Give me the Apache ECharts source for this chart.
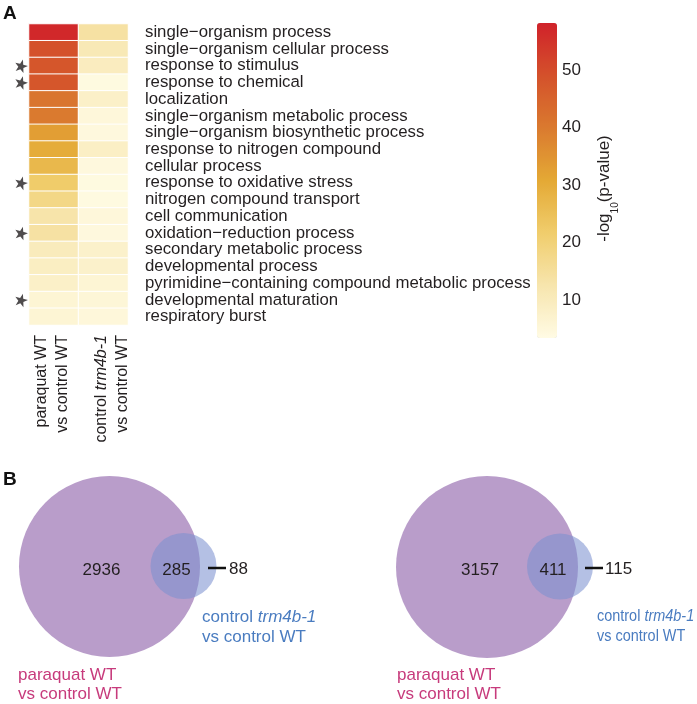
<!DOCTYPE html>
<html><head><meta charset="utf-8">
<script src="https://cdn.jsdelivr.net/npm/echarts@6/dist/echarts.min.js"></script>
<style>html,body{margin:0;padding:0;background:#fff}#c{width:697px;height:704px}</style>
</head><body><div id="c"></div>
<script>
// ---------- data ----------
const terms = [
  'single−organism process',
  'single−organism cellular process',
  'response to stimulus',
  'response to chemical',
  'localization',
  'single−organism metabolic process',
  'single−organism biosynthetic process',
  'response to nitrogen compound',
  'cellular process',
  'response to oxidative stress',
  'nitrogen compound transport',
  'cell communication',
  'oxidation−reduction process',
  'secondary metabolic process',
  'developmental process',
  'pyrimidine−containing compound metabolic process',
  'developmental maturation',
  'respiratory burst'
];
const comparisons = ['paraquat WT vs control WT', 'control trm4b-1 vs control WT'];
const paraquatWT = [57, 49, 48, 48, 41, 40, 33, 30, 27, 22, 18, 13, 14, 10, 9, 8, 6, 6];
const trm4bWT    = [14, 11, 9.5, 4, 8, 5, 4.5, 8.5, 4.5, 4, 4, 5, 4.5, 7.5, 7.5, 6, 5.5, 5];
const starredTerms = ['response to stimulus', 'response to chemical', 'response to oxidative stress',
  'oxidation−reduction process', 'developmental maturation'];
const colorbarTicks = [10, 20, 30, 40, 50];
const colorMin = 3.4, colorMax = 58.2;
// Venn counts: [only paraquat, shared, only trm4b-1]
const vennLeft  = [2936, 285, 88];
const vennRight = [3157, 411, 115];

// ---------- layout / style ----------
const FONT = '"Liberation Sans", Arial, Helvetica, sans-serif';
const TXT = '#231f20';
const vennLayout = [
  { cx: 109.5, cy: 566.5, R: 90.5, sx: 183.5, sy: 566, r: 33,
    tA: [101.5, 570.5], tB: [176.5, 570.5], dash: [208, 226, 568], tC: [229, 569],
    blue: [202, 607], blueScale: 1, pink: [18, 665.5] },
  { cx: 487, cy: 567, R: 91, sx: 560, sy: 566.5, r: 33,
    tA: [480, 570.5], tB: [553, 570.5], dash: [585, 603, 568], tC: [605, 569],
    blue: [597, 606], blueScale: 0.85, pink: [397, 665.5] }
];

const heatData = [];
terms.forEach((t, i) => {
  heatData.push([0, i, paraquatWT[i]]);
  heatData.push([1, i, trm4bWT[i]]);
});
const starData = starredTerms.map(t => [0, terms.indexOf(t)]);
const vennData = [vennLeft, vennRight].map((v, i) => [i, v[0], v[1], v[2]]);

const STAR = 'path://M0,-10 L2.35,-3.24 L9.51,-3.09 L3.80,1.24 L5.88,8.09 L0,4 L-5.88,8.09 L-3.80,1.24 L-9.51,-3.09 L-2.35,-3.24 Z';

function rotLabel(x, y, text, rich) {
  return {
    type: 'text', x: x, y: y, rotation: Math.PI / 2,
    style: { text: text, font: '16px ' + FONT, fill: TXT, align: 'right', verticalAlign: 'middle',
      textAlign: 'right', textVerticalAlign: 'middle', rich: rich }
  };
}
const italRich = {
  n: { fontSize: 16, fontFamily: FONT, color: TXT },
  i: { fontSize: 16, fontFamily: FONT, color: TXT, fontStyle: 'italic' }
};

const chart = echarts.init(document.getElementById('c'), null, { renderer: 'canvas' });
chart.setOption({
  backgroundColor: '#fff',
  animation: false,
  textStyle: { fontFamily: FONT },
  grid: [
    { left: 29, top: 24, width: 99, height: 301, outerBoundsMode: 'none', containLabel: false },
    { left: 537, top: 23, width: 20, height: 315, outerBoundsMode: 'none', containLabel: false },
    { left: 0, top: 0, width: 697, height: 704, outerBoundsMode: 'none', containLabel: false }
  ],
  xAxis: [
    { gridIndex: 0, type: 'category', data: comparisons, axisLine: { show: false }, axisTick: { show: false },
      axisLabel: { show: false }, splitLine: { show: false } },
    { gridIndex: 1, type: 'value', show: false },
    { gridIndex: 2, type: 'value', min: 0, max: 697, show: false }
  ],
  yAxis: [
    { gridIndex: 0, type: 'category', data: terms, inverse: true, position: 'right',
      axisLine: { show: false }, axisTick: { show: false }, splitLine: { show: false },
      axisLabel: { interval: 0, margin: 17, fontSize: 16.8, color: TXT, fontFamily: FONT, hideOverlap: false } },
    { gridIndex: 1, type: 'value', min: colorMin, max: colorMax, position: 'right',
      axisLine: { show: false }, axisTick: { show: false }, splitLine: { show: false },
      axisLabel: { customValues: colorbarTicks, margin: 5, fontSize: 17, color: TXT, fontFamily: FONT },
      name: '{a|-log}{s|10}{a|(p-value)}', nameLocation: 'middle', nameRotate: 90, nameGap: 37,
      nameTextStyle: { padding: [0, 16, 0, 0], rich: {
        a: { fontSize: 17, fontFamily: FONT, color: TXT, lineHeight: 20 },
        s: { fontSize: 10, fontFamily: FONT, color: TXT, lineHeight: 12, verticalAlign: 'bottom', padding: [0, 0, -6, 0] }
      } } },
    { gridIndex: 2, type: 'value', min: 0, max: 704, inverse: true, show: false }
  ],
  visualMap: {
    type: 'continuous', min: colorMin, max: colorMax, seriesIndex: 0, show: true,
    left: 537, top: 23, itemWidth: 20, itemHeight: 315, padding: 0, calculable: false,
    text: null, hoverLink: false,
    inRange: { color: ['#fffbe4', '#f7e5ad', '#f0cd6c', '#e4a935', '#da7a2f', '#d4512b', '#d0222a'] }
  },
  series: [
    { type: 'heatmap', xAxisIndex: 0, yAxisIndex: 0, data: heatData,
      itemStyle: { borderColor: '#ffffff', borderWidth: 1 }, emphasis: { disabled: true } },
    { type: 'scatter', xAxisIndex: 0, yAxisIndex: 0, data: starData, symbol: STAR, symbolSize: 13,
      symbolOffset: [-32.5, 0], symbolRotate: -15, clip: false, itemStyle: { color: '#231f20' }, silent: true },
    { type: 'custom', xAxisIndex: 2, yAxisIndex: 2, data: vennData, clip: false, silent: true,
      renderItem: function (params, api) {
        const L = vennLayout[api.value(0)];
        const c = [api.value(1), api.value(2), api.value(3)];
        const u = api.size([1, 1])[0];
        const P = (x, y) => api.coord([x, y]);
        const big = P(L.cx, L.cy), sm = P(L.sx, L.sy);
        const num = (pt, t, align) => ({ type: 'text', x: pt[0], y: pt[1],
          style: { text: String(t), font: '17px ' + FONT, fill: TXT, align: align, verticalAlign: 'middle',
            textAlign: align, textVerticalAlign: 'middle' } });
        const d0 = P(L.dash[0], L.dash[2]), d1 = P(L.dash[1], L.dash[2]);
        const blue = P(L.blue[0], L.blue[1]), pink = P(L.pink[0], L.pink[1]);
        return { type: 'group', children: [
          { type: 'circle', shape: { cx: big[0], cy: big[1], r: L.R * u }, style: { fill: '#b99dca' } },
          { type: 'circle', shape: { cx: sm[0], cy: sm[1], r: L.r * u }, style: { fill: 'rgba(123,144,208,0.57)' } },
          num(P(L.tA[0], L.tA[1]), c[0], 'center'),
          num(P(L.tB[0], L.tB[1]), c[1], 'center'),
          { type: 'line', shape: { x1: d0[0], y1: d0[1], x2: d1[0], y2: d1[1] }, style: { stroke: '#111', lineWidth: 2.5 } },
          num(P(L.tC[0], L.tC[1]), c[2], 'left'),
          { type: 'text', x: blue[0], y: blue[1], scaleX: L.blueScale, style: {
              text: '{n|control }{i|trm4b-1}\n{n|vs control WT}', align: 'left', verticalAlign: 'top',
              textAlign: 'left', textVerticalAlign: 'top',
              rich: { n: { fontSize: 17, fontFamily: FONT, fill: '#4a7cc0', color: '#4a7cc0', lineHeight: 20 },
                      i: { fontSize: 17, fontFamily: FONT, fill: '#4a7cc0', color: '#4a7cc0', fontStyle: 'italic', lineHeight: 20 } } } },
          { type: 'text', x: pink[0], y: pink[1], style: {
              text: 'paraquat WT\nvs control WT', font: '17px ' + FONT, fill: '#c73b7c', lineHeight: 19,
              align: 'left', verticalAlign: 'top', textAlign: 'left', textVerticalAlign: 'top' } }
        ] };
      }
    }
  ],
  graphic: [
    { type: 'text', left: 3, top: 4, style: { text: 'A', font: 'bold 19px ' + FONT, fill: '#111' } },
    { type: 'text', left: 3, top: 470, style: { text: 'B', font: 'bold 19px ' + FONT, fill: '#111' } },
    rotLabel(42, 335, 'paraquat WT'),
    rotLabel(63, 335, 'vs control WT'),
    rotLabel(102, 335, '{n|control }{i|trm4b-1}', italRich),
    rotLabel(123, 335, 'vs control WT')
  ]
});
</script></body></html>
